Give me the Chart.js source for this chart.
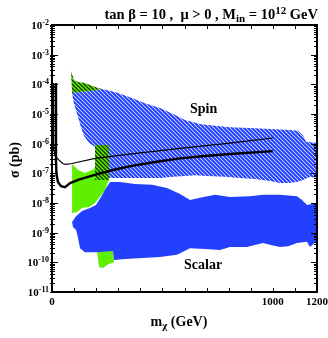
<!DOCTYPE html>
<html>
<head>
<meta charset="utf-8">
<script src="https://cdn.jsdelivr.net/npm/chart.js@4.4.1/dist/chart.umd.min.js"></script>
<style>
html, body { margin: 0; padding: 0; background: #fff; }
canvas { display: block; }
</style>
</head>
<body>
<canvas id="neutralino" width="328" height="338"></canvas>
<script>
// outlines are mass m_chi (GeV) against sigma (pb)

// spin-dependent region (blue hatch)
let spinMass = [91, 127, 172, 226, 285, 353, 421, 489, 548, 602, 670, 738, 806, 897, 987, 1078, 1114, 1137, 1150, 1200,
    1200, 1168, 1137, 1109, 1069, 1032, 987, 919, 851, 783, 702, 648, 602, 548, 489, 398, 308, 254, 195,
    195, 168, 145, 131, 118, 104, 95]
let spinSigma = [5.1e-5, 5.5e-5, 6.0e-5, 6.9e-5, 5.5e-5, 3.7e-5, 2.3e-5, 1.6e-5, 1.0e-5, 6.3e-6, 4.6e-6, 4.0e-6, 3.6e-6, 3.4e-6, 3.1e-6, 2.9e-6, 2.7e-6, 1.9e-6, 1.15e-6, 1.05e-6,
    6.9e-8, 7.6e-8, 6.0e-8, 5.1e-8, 4.7e-8, 4.7e-8, 5.5e-8, 6.5e-8, 6.9e-8, 7.6e-8, 8.1e-8, 8.7e-8, 8.1e-8, 7.6e-8, 6.9e-8, 6.9e-8, 6.9e-8, 6.9e-8, 6.9e-8,
    7.8e-7, 1.05e-6, 1.8e-6, 3.6e-6, 7.9e-6, 1.7e-5, 3.2e-5]

// green hatched pieces (top wedge and vertical strip)
let wedgeMass = [86, 100, 118, 149, 195, 226, 172, 127, 91]
let wedgeSigma = [2.8e-4, 1.4e-4, 1.2e-4, 1.1e-4, 8.1e-5, 6.9e-5, 6.0e-5, 5.5e-5, 5.1e-5]
let stripMass = [195, 258, 258, 195]
let stripSigma = [9.1e-7, 9.1e-7, 6.0e-8, 6.0e-8]

// green solid pieces
let greenMass = [91, 118, 149, 181, 195, 195, 258, 240, 217, 195, 168, 136, 113, 91]
let greenSigma = [2.07e-7, 1.3e-7, 1.03e-7, 1.3e-7, 1.5e-7, 6.0e-8, 6.0e-8, 2.8e-8, 1.6e-8, 1.0e-8, 7.4e-9, 6.8e-9, 5.0e-9, 4.6e-9]
let bulgeMass = [204, 276, 281, 254, 231, 213, 208]
let bulgeSigma = [2.6e-10, 2.6e-10, 1.0e-10, 8.7e-11, 6.5e-11, 6.9e-11, 1.4e-10]

// scalar region (solid blue)
let scalarMass = [91, 109, 136, 172, 199, 222, 240, 263, 308, 376, 453, 521, 580, 625, 670, 738, 806, 897, 955, 1032, 1109, 1132, 1155, 1200,
    1200, 1168, 1155, 1109, 1069, 1032, 987, 955, 883, 806, 761, 693, 625, 566, 489, 412, 331, 281, 276, 204, 149, 127, 118, 109, 95]
let scalarSigma = [2.3e-9, 3.6e-9, 5.4e-9, 6.8e-9, 8.5e-9, 1.6e-8, 2.8e-8, 5.1e-8, 5.1e-8, 4.4e-8, 4.1e-8, 3.2e-8, 2.0e-8, 1.26e-8, 1.5e-8, 1.9e-8, 1.6e-8, 1.7e-8, 1.9e-8, 1.9e-8, 1.7e-8, 1.26e-8, 8.5e-9, 1.0e-8,
    5.2e-10, 3.3e-10, 4.9e-10, 4.5e-10, 3.5e-10, 3.3e-10, 3.9e-10, 4.5e-10, 3.3e-10, 3.3e-10, 2.6e-10, 2.8e-10, 3.0e-10, 1.8e-10, 1.5e-10, 1.4e-10, 1.3e-10, 1.2e-10, 2.4e-10, 2.2e-10, 2.2e-10, 3.0e-10, 6.6e-10, 1.23e-9, 1.55e-9]

// the two black curves
let thickMass = [18, 18, 20, 27, 41, 59, 82, 118, 163, 217, 285, 362, 466, 580, 693, 806, 1000]
let thickSigma = [1.1e-4, 2.8e-7, 9.5e-8, 5.1e-8, 3.7e-8, 3.4e-8, 4.7e-8, 6.0e-8, 7.6e-8, 9.9e-8, 1.35e-7, 1.78e-7, 2.4e-7, 3.2e-7, 3.85e-7, 4.5e-7, 5.6e-7]
let thinMass = [6, 6, 9, 18, 32, 50, 63, 90, 195, 362, 580, 806, 1000]
let thinSigma = [1.1e-4, 1.3e-6, 6.2e-7, 3.6e-7, 2.8e-7, 2.1e-7, 2.0e-7, 2.15e-7, 3.2e-7, 4.5e-7, 6.9e-7, 1.05e-6, 1.55e-6]

// axes
let yTickExps = [-2, -3, -4, -5, -6, -7, -8, -9, -10, -11]
let xTickMarks = [0, 100, 200, 300, 400, 500, 600, 700, 800, 900, 1000, 1100, 1200]
let xTickLabels = [0, 1000, 1200]

let serif = '"Liberation Serif", "Times New Roman", serif'
let canvas = document.getElementById('neutralino')
let ctx0 = canvas.getContext('2d')

function pts(xs, ys) {
    return xs.map((x, i) => ({ x: x, y: ys[i] }))
}

// 4px diagonal hatch tile
function hatch(bg, fg, w) {
    let c = document.createElement('canvas')
    c.width = 4
    c.height = 4
    let g = c.getContext('2d')
    g.fillStyle = bg
    g.fillRect(0, 0, 4, 4)
    g.strokeStyle = fg
    g.lineWidth = w
    g.beginPath()
    g.moveTo(-1, -1); g.lineTo(5, 5)
    g.moveTo(-1, 3); g.lineTo(1, 5)
    g.moveTo(3, -1); g.lineTo(5, 1)
    g.stroke()
    return ctx0.createPattern(c, 'repeat')
}

let blue = '#2340ff'
let green = '#5ef000'

function region(xs, ys, fillStyle, order) {
    return {
        data: pts(xs, ys),
        backgroundColor: fillStyle,
        borderColor: 'rgba(0,0,0,0)',
        borderWidth: 0,
        fill: 'shape',
        pointRadius: 0,
        tension: 0,
        order: order,
    }
}

function curve(xs, ys, width, order) {
    return {
        data: pts(xs, ys),
        borderColor: '#000',
        borderWidth: width,
        fill: false,
        pointRadius: 0,
        tension: 0,
        order: order,
    }
}

// draws text made of pieces [text, size, yShift]
function richText(ctx, parts, x, y, align) {
    let w = 0
    parts.forEach(p => {
        ctx.font = 'bold ' + p[1] + 'px ' + serif
        w += ctx.measureText(p[0]).width
    })
    let cx = align === 'right' ? x - w : align === 'center' ? x - w / 2 : x
    parts.forEach(p => {
        ctx.font = 'bold ' + p[1] + 'px ' + serif
        ctx.fillText(p[0], cx, y + (p[2] || 0))
        cx += ctx.measureText(p[0]).width
    })
}

let frameAndText = {
    id: 'frameAndText',
    afterDraw(chart) {
        let ctx = chart.ctx
        let a = chart.chartArea
        let xs = chart.scales.x
        let ys = chart.scales.y
        ctx.save()
        ctx.strokeStyle = '#000'
        ctx.fillStyle = '#000'
        ctx.lineWidth = 2
        ctx.strokeRect(a.left, a.top, a.right - a.left, a.bottom - a.top)

        ctx.lineWidth = 1
        ctx.beginPath()
        xTickMarks.forEach(v => {
            let px = Math.round(xs.getPixelForValue(v)) + 0.5
            ctx.moveTo(px, a.bottom); ctx.lineTo(px, a.bottom - 4)
            ctx.moveTo(px, a.top); ctx.lineTo(px, a.top + 4)
        })
        yTickExps.forEach(e => {
            for (let k = 1; k < 10; k++) {
                if (e === -2 && k > 1) break
                let py = Math.round(ys.getPixelForValue(k * Math.pow(10, e))) + 0.5
                let len = k === 1 ? 6 : 3
                ctx.moveTo(a.left - 2, py); ctx.lineTo(a.left + len, py)
                ctx.moveTo(a.right, py); ctx.lineTo(a.right - len, py)
            }
        })
        ctx.stroke()

        ctx.textBaseline = 'alphabetic'
        ctx.textAlign = 'left'
        yTickExps.forEach(e => {
            let py = ys.getPixelForValue(Math.pow(10, e))
            richText(ctx, [['10', 11], [String(e), 8, -4]], a.left - 3, py + 4, 'right')
        })
        xTickLabels.forEach(v => {
            richText(ctx, [[String(v), 11]], xs.getPixelForValue(v), 305, 'center')
        })

        richText(ctx, [['m', 14], ['\u03c7', 11, 3], [' (GeV)', 14]], 179, 326, 'center')
        richText(ctx, [['tan \u03b2 = 10 ,  \u03bc > 0 , M', 14.5], ['in', 11, 3], [' = 10', 14.5], ['12', 11, -5], [' GeV', 14.5]], 318, 19, 'right')
        richText(ctx, [['Spin', 14]], 190, 113, 'left')
        richText(ctx, [['Scalar', 14]], 184, 269, 'left')

        ctx.translate(19, 160)
        ctx.rotate(-Math.PI / 2)
        richText(ctx, [['\u03c3 (pb)', 14]], 0, 0, 'center')
        ctx.restore()
    }
}

let chart = new Chart(canvas, {
    type: 'line',
    data: {
        datasets: [
            curve(thickMass, thickSigma, 2.4, 0),
            curve(thinMass, thinSigma, 1.2, 1),
            region(wedgeMass, wedgeSigma, hatch(green, '#113300', 1.3), 2),
            region(stripMass, stripSigma, hatch(green, '#113300', 1.3), 3),
            region(scalarMass, scalarSigma, blue, 4),
            region(bulgeMass, bulgeSigma, green, 5),
            region(greenMass, greenSigma, green, 6),
            region(spinMass, spinSigma, hatch('#ffffff', blue, 2.1), 7),
        ],
    },
    options: {
        responsive: false,
        animation: false,
        layout: { padding: { left: 52, top: 25, right: 11, bottom: 46 } },
        plugins: {
            legend: { display: false },
            tooltip: { enabled: false },
        },
        scales: {
            x: { type: 'linear', min: 0, max: 1200, display: false },
            y: { type: 'logarithmic', min: 1e-11, max: 1e-2, display: false },
        },
    },
    plugins: [frameAndText],
})
</script>
</body>
</html>
